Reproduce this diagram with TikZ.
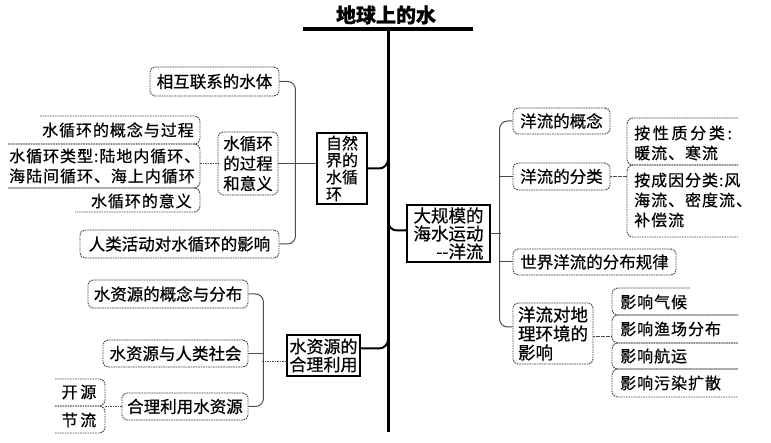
\documentclass[tikz,border=0pt]{standalone}
\usepackage{fontspec}
\setmainfont{Noto Sans CJK SC}[FakeBold=0.6]
\newfontfamily\lsfont{Noto Sans CJK SC}[LetterSpace=6, FakeBold=0.6]
\usetikzlibrary{calc}
\begin{document}
\begin{tikzpicture}[x=1pt,y=-1pt,
  every node/.style={inner sep=0pt, font=\fontsize{16.5}{19}\selectfont},
  mainbox/.style={draw, line width=1.4pt, inner sep=1pt},
  dbox/.style={draw=black!75, line width=0.9pt, dash pattern=on 1.6pt off 0.9pt, rounded corners=5pt},
  lst/.style={draw=black!75, line width=0.9pt, dash pattern=on 1.6pt off 0.9pt, rounded corners=6pt},
  brk/.style={draw=black!70, line width=1pt, rounded corners=8pt},
  lnk/.style={draw=black!70, line width=1pt, dash pattern=on 1.6pt off 0.9pt},
  conn/.style={line width=2pt, rounded corners=9pt},
  lt/.style={font=\lsfont\fontsize{16}{20}\selectfont}
]
\useasboundingbox (0,0) rectangle (771,443);

% title and trunk
\node[font=\fontsize{20}{24}\selectfont\bfseries] (title) at (386,15) {地球上的水};
\coordinate (barL) at (303,29);
\coordinate (barR) at (473,29);
\coordinate (ttop) at (388,29);
\coordinate (tbot) at (388,432);
\draw[line width=4pt] (barL) -- (barR);
\draw[line width=3pt] (ttop) -- (tbot);

% ---------- left: natural water cycle ----------
\node[mainbox, minimum width=50, minimum height=71, align=left, font=\fontsize{16}{17}\selectfont] (ziran) at (342,168.5) {自然\\界的\\水循\\环};
\node[dbox, minimum width=60, minimum height=63, align=center, font=\fontsize{16.5}{20}\selectfont] (guocheng) at (248,163.5) {水循环\\的过程\\和意义};
\node[dbox, minimum width=129, minimum height=29] (xianghu) at (214.5,81.5) {相互联系的水体};
\node[dbox, minimum width=199, minimum height=28] (renlei) at (179.5,244) {人类活动对水循环的影响};

\draw[conn] (ziran.east) -| ($(ziran.east -| ttop)+(0,-16)$);
\draw[brk] (xianghu.east) -- ++(16,0) |- (renlei.east);
\draw[brk] (guocheng.east) -- (guocheng.east -| ziran.west);

% list of water cycle
\draw[lst] (40,116) -- (200,116) -- (200,144) -- (8,144);
\draw[lst] (8,144) -- (200,144) -- (200,188) -- (8,188);
\draw[lst] (8,188) -- (200,188) -- (200,212) -- (75,212);
\node[lt, anchor=east] (t1) at (194,130) {水循环的概念与过程};
\node[lt, anchor=west, align=left] (t2) at (9,166) {水循环类型:陆地内循环、\\海陆间循环、海上内循环};
\node[lt, anchor=east] (t3) at (192,201) {水循环的意义};
\coordinate (gl) at (200,164);
\draw[lnk] (gl) -- (gl -| guocheng.west);

% ---------- left: water resources ----------
\node[mainbox, minimum width=73, minimum height=41, align=left, font=\fontsize{17}{18}\selectfont] (ziyuan) at (323.5,355.5) {水资源的\\合理利用};
\node[dbox, minimum width=160, minimum height=28] (gainian) at (168,294) {水资源的概念与分布};
\node[dbox, minimum width=145, minimum height=27] (shehui) at (175.5,353.5) {水资源与人类社会};
\node[dbox, minimum width=126, minimum height=27] (heli) at (185,406.5) {合理利用水资源};

\draw[conn] ([yshift=7pt]ziyuan.east) -| ($([yshift=7pt]ziyuan.east -| ttop)+(0,-16)$);
\draw[brk] (gainian.east) -- ++(15,0) |- (heli.east);
\draw[brk] (shehui.east) -- ++(15,0);
\draw[lnk] ([yshift=-6pt]ziyuan.west) -- ++(-24,0);

\draw[lst] (55,379) -- (105,379) -- (105,406) -- (55,406);
\draw[lst] (55,406) -- (105,406) -- (105,433) -- (55,433);
\node[lt] (kaiyuan) at (79,392) {开\,源};
\node[lt] (jieliu) at (79,420) {节\,流};
\coordinate (kl) at (105,406.5);
\draw[lnk] (kl) -- (heli.west);

% ---------- right: ocean currents ----------
\node[mainbox, minimum width=83, minimum height=57, align=right, font=\fontsize{17.5}{18}\selectfont] (dagui) at (448.5,233.5) {大规模的\\海水运动\\-{}-洋流};
\node[dbox, minimum width=97, minimum height=26] (ylgainian) at (561.5,121) {洋流的概念};
\node[dbox, minimum width=97, minimum height=27] (fenlei) at (561.5,176.5) {洋流的分类};
\node[dbox, minimum width=163, minimum height=26] (guilv) at (594.5,262) {世界洋流的分布规律};
\node[dbox, minimum width=80, minimum height=61, align=left, font=\fontsize{17.5}{19}\selectfont] (yingxiang) at (553,333.5) {洋流对地\\理环境的\\影响};

\draw[conn] ([yshift=3pt]dagui.west) -| ($([yshift=3pt]dagui.west -| ttop)+(0,-16)$);
\draw[brk] (ylgainian.west) -- ++(-13,0) |- ([yshift=6.5pt]yingxiang.west);
\draw[brk] (dagui.east) -- ++(10,0);
\draw[brk] (fenlei.west) -- ++(-13,0);
\draw[brk] (guilv.west) -- ++(-13,0);

% classification list
\draw[lst] (738,118) -- (627,118) -- (627,165) -- (738,165);
\draw[lst] (738,165) -- (627,165) -- (627,237) -- (738,237);
\node[lt, anchor=west, align=left] (c1) at (634,143) {按\,性\,质\,分\,类\,:\\暖流、寒流};
\node[lt, anchor=west, align=left] (c2) at (634,200) {按成因分类:风\\海流、密度流、\\补偿流};
\coordinate (fl) at (627,176.5);
\draw[lnk] (fenlei.east) -- (fl);

% influence list
\draw[lst] (690,288) -- (612,288) -- (612,315) -- (738,315);
\draw[lst] (738,315) -- (612,315) -- (612,343) -- (738,343);
\draw[lst] (738,343) -- (612,343) -- (612,369) -- (738,369);
\draw[lst] (738,369) -- (612,369) -- (612,397) -- (738,397);
\node[lt, anchor=west] (i1) at (620,302) {影响气候};
\node[lt, anchor=west] (i2) at (620,329) {影响渔场分布};
\node[lt, anchor=west] (i3) at (620,356) {影响航运};
\node[lt, anchor=west] (i4) at (620,383) {影响污染扩散};
\coordinate (yl) at (612,337);
\draw[lnk] (yingxiang.east |- yl) -- (yl);

\end{tikzpicture}
\end{document}
